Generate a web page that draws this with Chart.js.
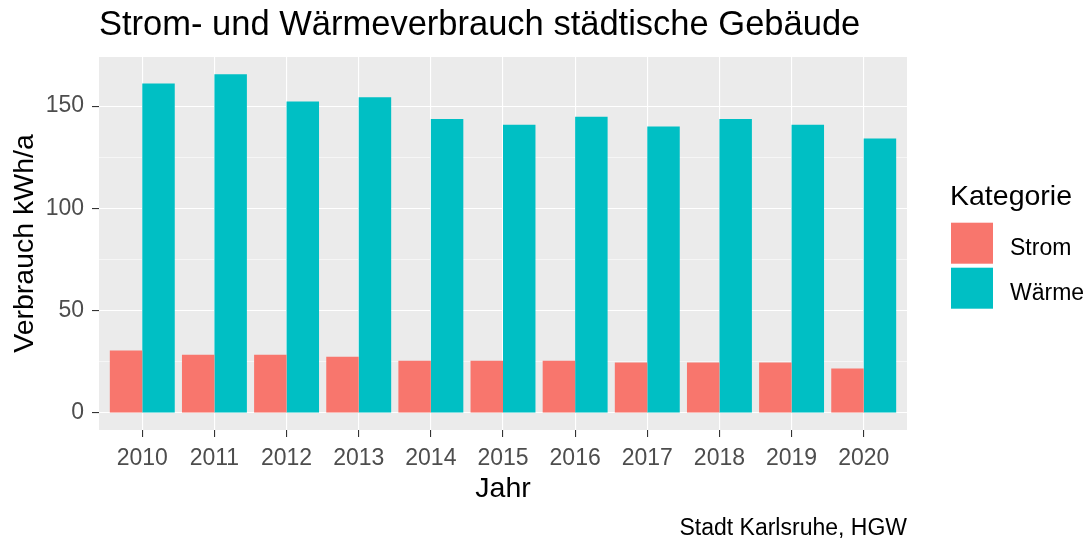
<!DOCTYPE html>
<html>
<head>
<meta charset="utf-8">
<script src="https://cdn.jsdelivr.net/npm/chart.js@4"></script>
<style>
  html, body { margin: 0; padding: 0; background: #ffffff; }
</style>
</head>
<body>
<canvas id="chart" width="1090" height="546"></canvas>
<script>
const years = [2010, 2011, 2012, 2013, 2014, 2015, 2016, 2017, 2018, 2019, 2020];
const strom = [30.5, 28.5, 28.5, 27.5, 25.6, 25.6, 25.6, 24.7, 24.7, 24.7, 21.8];
const waerme = [161, 165.6, 152.3, 154.3, 143.7, 140.9, 144.8, 140, 143.7, 140.9, 134.2];
const yTicks = [0, 25, 50, 75, 100, 125, 150];

const FONT = "'Liberation Sans', Arial, sans-serif";
Chart.defaults.font.family = FONT;

// grey ggplot panel behind the grid
const panelBg = {
  id: 'panelBg',
  beforeDraw(chart) {
    const { ctx, chartArea: a } = chart;
    ctx.save();
    ctx.fillStyle = '#EBEBEB';
    ctx.fillRect(a.left, a.top, a.right - a.left, a.bottom - a.top);
    ctx.restore();
  }
};

// legend drawn like ggplot: title on top, square keys below
const keyLegend = {
  id: 'keyLegend',
  afterDraw(chart) {
    const ctx = chart.ctx;
    ctx.save();
    ctx.textBaseline = 'alphabetic';
    ctx.fillStyle = '#000000';
    ctx.font = '28.5px ' + FONT;
    ctx.fillText('Kategorie', 950, 205);
    chart.data.datasets.forEach((ds, i) => {
      const y = 222.7 + i * 45;
      ctx.fillStyle = ds.backgroundColor;
      ctx.fillRect(951, y, 42, 41);
      ctx.fillStyle = '#000000';
      ctx.font = '23px ' + FONT;
      ctx.fillText(ds.label, 1010, y + 32.3);
    });
    ctx.restore();
  }
};

new Chart(document.getElementById('chart'), {
  type: 'bar',
  data: {
    datasets: [
      {
        label: 'Strom',
        data: years.map((yr, i) => ({ x: yr, y: strom[i] })),
        backgroundColor: '#F8766D'
      },
      {
        label: 'Wärme',
        data: years.map((yr, i) => ({ x: yr, y: waerme[i] })),
        backgroundColor: '#00BFC4'
      }
    ]
  },
  options: {
    responsive: false,
    animation: false,
    events: [],
    categoryPercentage: 0.9,
    barPercentage: 1.0,
    layout: { padding: { left: 0, right: 183, top: 0, bottom: 0 } },
    plugins: {
      legend: { display: false },
      tooltip: { enabled: false },
      title: {
        display: true,
        text: 'Strom- und Wärmeverbrauch städtische Gebäude',
        align: 'start',
        fullSize: false,
        color: '#000000',
        font: { size: 34.5, weight: 'normal' },
        padding: { top: 4.3, bottom: 11.3 }
      },
      subtitle: {
        display: true,
        text: 'Stadt Karlsruhe, HGW',
        position: 'bottom',
        align: 'end',
        fullSize: false,
        color: '#000000',
        font: { size: 23 },
        padding: { top: 0, bottom: 3.4 }
      }
    },
    scales: {
      x: {
        type: 'linear',
        min: 2009.4,
        max: 2020.6,
        offset: false,
        afterBuildTicks: s => { s.ticks = years.map(v => ({ value: v })); },
        afterFit: s => { s.height = 85; },
        border: { display: false },
        grid: {
          offset: false,
          color: '#FFFFFF',
          lineWidth: 1.1,
          tickColor: '#333333',
          tickLength: 7,
          tickWidth: 1.1
        },
        ticks: {
          callback: v => String(v),
          color: '#4D4D4D',
          font: { size: 23 },
          padding: 8,
          maxRotation: 0,
          autoSkip: false
        },
        title: {
          display: true,
          text: 'Jahr',
          color: '#000000',
          font: { size: 28.5 },
          padding: { top: 0, bottom: 8.4 }
        }
      },
      y: {
        min: -8.3,
        max: 174,
        afterBuildTicks: s => { s.ticks = yTicks.map(v => ({ value: v })); },
        afterFit: s => { s.width = 99; },
        border: { display: false },
        grid: {
          color: '#FFFFFF',
          lineWidth: c => (c.tick && c.tick.value % 50 === 0 ? 1.1 : 0.55),
          tickColor: c => (c.tick && c.tick.value % 50 === 0 ? '#333333' : 'rgba(0,0,0,0)'),
          tickLength: 7,
          tickWidth: 1.1
        },
        ticks: {
          callback: v => (v % 50 === 0 ? String(v) : ''),
          color: '#4D4D4D',
          font: { size: 23 },
          padding: 8
        },
        title: {
          display: true,
          text: 'Verbrauch kWh/a',
          color: '#000000',
          font: { size: 28.5 },
          padding: { top: 8, bottom: 0 }
        }
      }
    }
  },
  plugins: [panelBg, keyLegend]
});
</script>
</body>
</html>
